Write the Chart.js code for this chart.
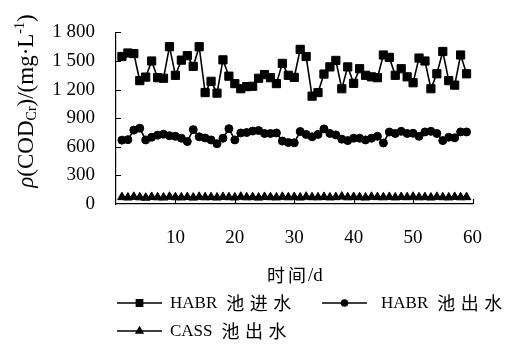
<!DOCTYPE html>
<html>
<head>
<meta charset="utf-8">
<script src="https://cdn.jsdelivr.net/npm/chart.js@4/dist/chart.umd.min.js"></script>
<style>
  html, body { margin: 0; padding: 0; background: #fff; }
  #c { display: block; }
</style>
</head>
<body>
<canvas id="c" width="505" height="349"></canvas>
<script>
// Sampling days (d)
const days = [1,2,3,4,5,6,7,8,9,10,11,12,13,14,15,16,17,18,19,20,
              21,22,23,24,25,26,27,28,29,30,31,32,33,34,35,36,37,38,39,40,
              41,42,43,44,45,46,47,48,49,50,51,52,53,54,55,56,57,58,59];

// COD concentration, mg/L
const habrInflow = [1547,1584,1578,1294,1331,1500,1325,1319,1650,1350,
                    1509,1556,1444,1650,1169,1287,1163,1512,1341,1263,
                    1209,1231,1235,1319,1357,1325,1263,1475,1350,1328,
                    1622,1547,1131,1169,1363,1438,1506,1209,1438,1266,
                    1419,1350,1334,1325,1563,1538,1350,1419,1334,1272,
                    1531,1500,1209,1366,1600,1294,1247,1563,1366];
const habrOutflow = [670,675,775,795,672,700,722,732,716,710,
                     690,655,780,705,692,672,632,690,790,672,
                     745,750,765,770,740,740,745,660,645,642,
                     760,730,705,730,788,740,725,680,665,690,
                     690,672,690,710,640,755,740,762,740,742,
                     710,756,762,740,665,700,694,756,756];
const cassOutflow = [72,68,75,70,66,74,70,68,76,71,
                     69,73,67,75,70,72,68,74,71,69,
                     76,70,72,67,74,71,69,75,70,73,
                     68,76,71,70,74,69,72,78,70,73,
                     71,68,75,72,70,74,69,73,71,76,
                     70,72,68,75,71,69,74,70,72];

const seriesNames = ['HABR 池进水', 'HABR 池出水', 'CASS 池出水'];
const xTickValues = [10, 20, 30, 40, 50, 60];
const yTickValues = [0, 300, 600, 900, 1200, 1500, 1800];

const SERIF = '"Liberation Serif", "Times New Roman", serif';
const CJK = '"Noto Sans CJK SC", sans-serif';

function pairs(xs, ys) { return xs.map((x, i) => ({ x: x, y: ys[i] })); }
function thousands(v) { return String(v).replace(/\B(?=(\d{3})+(?!\d))/g, ' '); }

// Inward tick marks on both axes
const innerTicks = {
  id: 'innerTicks',
  afterDraw(chart) {
    const { ctx, chartArea: a, scales: { x, y } } = chart;
    ctx.save();
    ctx.strokeStyle = '#000';
    ctx.lineWidth = 1.2;
    ctx.beginPath();
    yTickValues.forEach(v => {
      if (v === 0) return;
      const py = Math.round(y.getPixelForValue(v)) + 0.5;
      ctx.moveTo(a.left, py); ctx.lineTo(a.left + 5, py);
    });
    xTickValues.forEach(v => {
      const px = Math.round(x.getPixelForValue(v)) + 0.5;
      ctx.moveTo(px, a.bottom); ctx.lineTo(px, a.bottom - 5);
    });
    ctx.stroke();
    ctx.restore();
  }
};

// Axis titles (the y title carries a subscript and a superscript)
const axisTitles = {
  id: 'axisTitles',
  afterDraw(chart) {
    const { ctx } = chart;
    ctx.save();
    ctx.fillStyle = '#000';
    ctx.textBaseline = 'middle';
    // x title, drawn glyph by glyph
    ctx.font = '18px ' + CJK;
    let tx = 267;
    ['时', '间'].forEach(ch => { ctx.fillText(ch, tx, 275); tx += 21; });
    ctx.font = '19px ' + SERIF;
    ctx.fillText('/d', tx - 1, 276);

    // y title
    const parts = [
      { t: 'ρ', f: 'italic 23px ' + SERIF, dy: 0 },
      { t: '(COD', f: '23px ' + SERIF, dy: 0 },
      { t: 'Cr', f: '14px ' + SERIF, dy: 5 },
      { t: ')/(mg·L', f: '23px ' + SERIF, dy: 0 },
      { t: '-1', f: '14px ' + SERIF, dy: -7 },
      { t: ')', f: '23px ' + SERIF, dy: 0 }
    ];
    let total = 0;
    parts.forEach(p => { ctx.font = p.f; p.w = ctx.measureText(p.t).width; total += p.w; });
    ctx.translate(27, 101);
    ctx.rotate(-Math.PI / 2);
    let px = -total / 2;
    parts.forEach(p => { ctx.font = p.f; ctx.fillText(p.t, px, p.dy); px += p.w; });
    ctx.restore();
  }
};

// Legend: line sample with marker, then label
const lineLegend = {
  id: 'lineLegend',
  afterDraw(chart) {
    const { ctx } = chart;
    const slots = [
      { x0: 117, x1: 162, tx: 170, y: 303 },
      { x0: 322, x1: 367, tx: 381, y: 303 },
      { x0: 117, x1: 162, tx: 170, y: 331 }
    ];
    ctx.save();
    chart.data.datasets.forEach((ds, i) => {
      const s = slots[i];
      ctx.strokeStyle = '#000';
      ctx.fillStyle = '#000';
      ctx.lineWidth = 1.6;
      ctx.beginPath();
      ctx.moveTo(s.x0, s.y); ctx.lineTo(s.x1, s.y);
      ctx.stroke();
      Chart.helpers.drawPoint(ctx, {
        pointStyle: ds.pointStyle, radius: ds.pointRadius * 0.75, rotation: 0, borderWidth: 1
      }, (s.x0 + s.x1) / 2, s.y);
      const [latin, han] = ds.label.split(' ');
      ctx.textBaseline = 'middle';
      ctx.font = '17px ' + SERIF;
      ctx.fillText(latin, s.tx, s.y + 1);
      let cx = s.tx + ctx.measureText(latin).width + 9;
      ctx.font = '18px ' + CJK;
      for (const ch of han) { ctx.fillText(ch, cx, s.y); cx += 23.5; }
    });
    ctx.restore();
  }
};

const common = {
  borderColor: '#000', backgroundColor: '#000', borderWidth: 1.6,
  pointBorderColor: '#000', pointBackgroundColor: '#000', pointBorderWidth: 1,
  tension: 0, fill: false
};

new Chart(document.getElementById('c'), {
  type: 'line',
  data: {
    datasets: [
      Object.assign({ label: seriesNames[0], data: pairs(days, habrInflow), pointStyle: 'rect', pointRadius: 5.8 }, common),
      Object.assign({ label: seriesNames[1], data: pairs(days, habrOutflow), pointStyle: 'circle', pointRadius: 4 }, common),
      Object.assign({ label: seriesNames[2], data: pairs(days, cassOutflow), pointStyle: 'triangle', pointRadius: 5 }, common)
    ]
  },
  options: {
    responsive: false,
    animation: false,
    devicePixelRatio: 1,
    layout: { padding: { left: 0, top: 12, right: 27, bottom: 0 } },
    plugins: { legend: { display: false }, tooltip: { enabled: false }, title: { display: false } },
    scales: {
      x: {
        type: 'linear', min: 0, max: 60,
        afterFit: s => { s.height = 145; },
        afterBuildTicks: s => { s.ticks = xTickValues.map(v => ({ value: v })); },
        grid: { display: false, drawTicks: false },
        border: { display: true, color: '#000', width: 1.2 },
        ticks: { color: '#000', padding: 23, maxRotation: 0, font: { family: SERIF, size: 19 } }
      },
      y: {
        min: 0, max: 1800,
        afterFit: s => { s.width = 116; },
        afterBuildTicks: s => { s.ticks = yTickValues.map(v => ({ value: v })); },
        grid: { display: false, drawTicks: false },
        border: { display: true, color: '#000', width: 1.2 },
        ticks: { color: '#000', padding: 21, font: { family: SERIF, size: 19 }, callback: v => thousands(v) }
      }
    }
  },
  plugins: [innerTicks, axisTitles, lineLegend]
});
</script>
</body>
</html>
